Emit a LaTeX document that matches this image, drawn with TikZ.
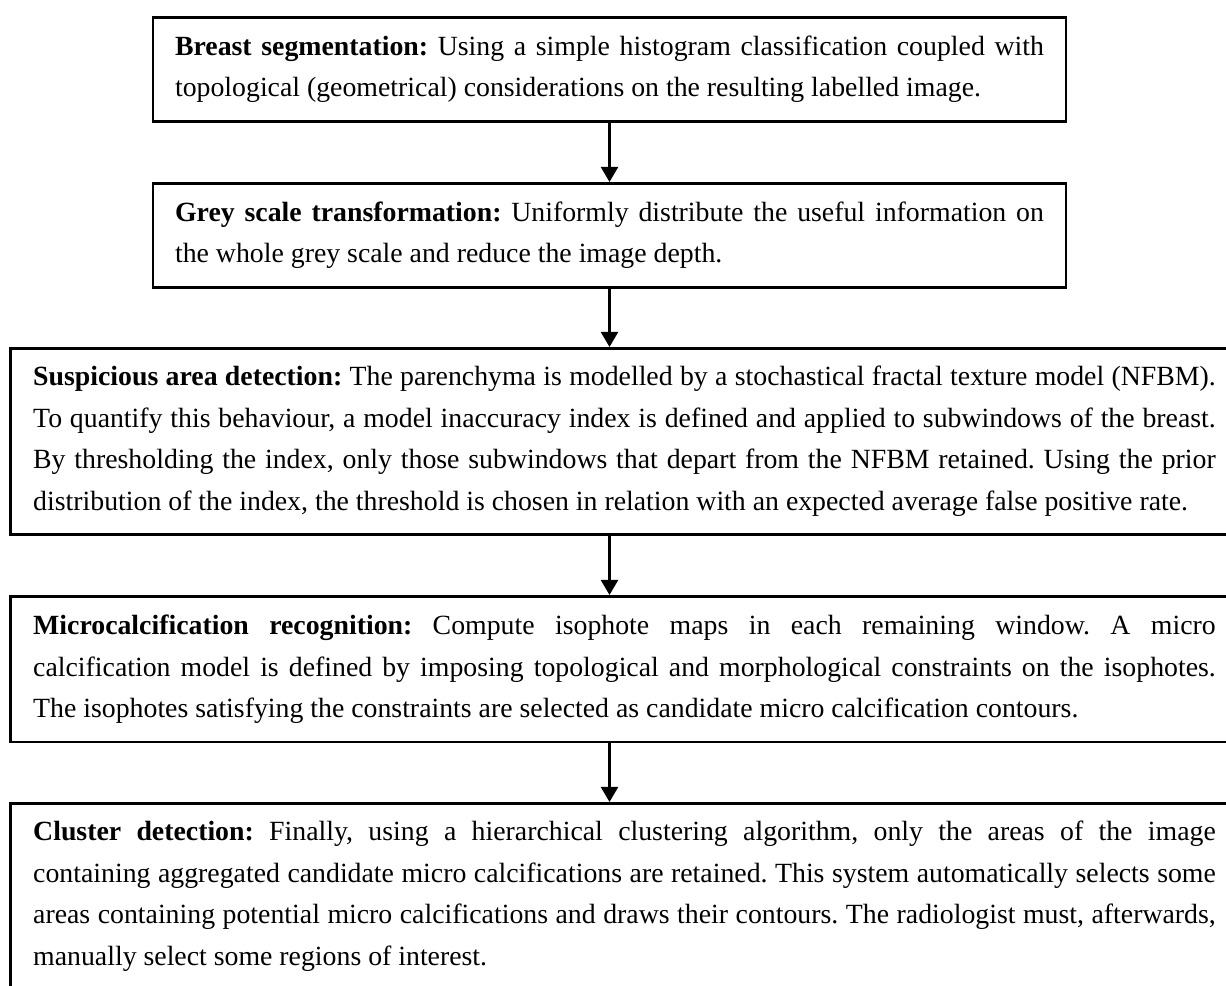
\documentclass[tikz,border=0pt]{standalone}
\usepackage{fontspec}
\setmainfont{Liberation Serif}
\usepackage{tikz}
\usetikzlibrary{arrows.meta}
\setlength{\parindent}{0pt}
\frenchspacing
\hyphenpenalty=10000
\exhyphenpenalty=10000
\tolerance=9999

\begin{document}
\begin{tikzpicture}[x=0.4317pt, y=-0.4317pt,
    stagebox/.style={draw, line width=1.1pt, align=justify, inner ysep=0pt,
      font=\fontsize{12pt}{17.87pt}\selectfont},
    narrowbox/.style={stagebox, text width=375.1pt, inner xsep=9.5pt, minimum height=44.9pt, anchor=north},
    widebox/.style={stagebox, text width=510.5pt, inner xsep=9.9pt, anchor=north west},
    flow/.style={line width=1.1pt, -{Triangle[length=6.5pt, width=7.3pt]}}]
  \clip (0,0) rectangle (1226,985);
  \coordinate (axis) at (609.5,0);
  \node[narrowbox] (seg) at (609.5,16) {\textbf{Breast segmentation:} Using a simple histogram classification coupled with\linebreak topological (geometrical) considerations on the resulting labelled image.};
  \node[narrowbox] (grey) at (609.5,182) {\textbf{Grey scale transformation:} Uniformly distribute the useful information on\linebreak the whole grey scale and reduce the image depth.};
  \node[widebox, minimum height=80.3pt] (susp) at (9,347) {\textbf{Suspicious area detection:} The parenchyma is modelled by a stochastical fractal texture model (NFBM).\linebreak To quantify this behaviour, a model inaccuracy index is defined and applied to subwindows of the breast.\linebreak By thresholding the index, only those subwindows that depart from the NFBM retained. Using the prior\linebreak distribution of the index, the threshold is chosen in relation with an expected average false positive rate.};
  \node[widebox, minimum height=63pt] (micro) at (9,595) {\textbf{Microcalcification recognition:} Compute isophote maps in each remaining window. A micro\linebreak calcification model is defined by imposing topological and morphological constraints on the isophotes.\linebreak The isophotes satisfying the constraints are selected as candidate micro calcification contours.};
  \node[widebox, minimum height=80.3pt] (clust) at (9,802) {\textbf{Cluster detection:} Finally, using a hierarchical clustering algorithm, only the areas of the image\linebreak containing aggregated candidate micro calcifications are retained. This system automatically selects some\linebreak areas containing potential micro calcifications and draws their contours. The radiologist must, afterwards,\linebreak manually select some regions of interest.};
  % arrows between the stages
  \draw[flow] (seg.south) -- (grey.north);
  \draw[flow] (grey.south) -- (axis |- susp.north);
  \draw[flow] (axis |- susp.south) -- (axis |- micro.north);
  \draw[flow] (axis |- micro.south) -- (axis |- clust.north);
\end{tikzpicture}
\end{document}
